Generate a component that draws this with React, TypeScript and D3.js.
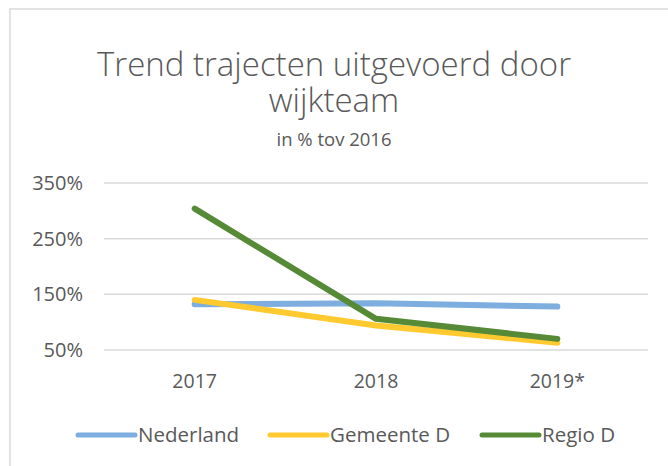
import React, { useEffect, useRef } from "react"
import * as d3 from "d3"

const categories = ["2017", "2018", "2019*"]
const seriesNames = ["Nederland", "Gemeente D", "Regio D"]
const nederland = [132, 134, 128]
const gemeenteD = [140, 94, 63]
const regioD = [304, 106, 70]
const yTicks = [50, 150, 250, 350]
const titleLines = ["Trend trajecten uitgevoerd door", "wijkteam"]

const colors = ["#7DAEDF", "#FFCA30", "#568A36"]
const textColor = "#595959"
const font = "'Open Sans', sans-serif"

const W = 668
const H = 466

const App: React.FC = () => {
  const ref = useRef<SVGSVGElement>(null)

  useEffect(() => {
    if (!ref.current) return
    const svg = d3.select(ref.current)
    svg.selectAll("*").remove()

    // chart frame (runs off the right/bottom edge like the screenshot)
    svg
      .append("rect")
      .attr("x", 10)
      .attr("y", 9)
      .attr("width", W + 20)
      .attr("height", H + 20)
      .attr("fill", "#fff")
      .attr("stroke", "#D9D9D9")
      .attr("stroke-width", 1.5)

    // titles
    titleLines.forEach((t, i) => {
      svg
        .append("text")
        .attr("x", 334)
        .attr("y", 76 + i * 36)
        .attr("text-anchor", "middle")
        .attr("font-family", font)
        .attr("font-weight", 300)
        .attr("fill", textColor)
        .attr("font-size", 33)
        .text(t)
    })

    svg
      .append("text")
      .attr("x", 334)
      .attr("y", 146)
      .attr("text-anchor", "middle")
      .attr("font-family", font)
      .attr("font-size", 18.5)
      .attr("fill", textColor)
      .text("in % tov 2016")

    const x = d3.scaleBand<string>().domain(categories).range([104, 648])
    const y = d3.scaleLinear().domain([50, 350]).range([350, 183])

    // gridlines
    svg
      .append("g")
      .selectAll("line")
      .data(yTicks)
      .join("line")
      .attr("x1", 104)
      .attr("x2", 648)
      .attr("y1", (d) => y(d))
      .attr("y2", (d) => y(d))
      .attr("stroke", "#D9D9D9")
      .attr("stroke-width", 1.5)

    // y labels
    svg
      .append("g")
      .selectAll("text")
      .data(yTicks)
      .join("text")
      .attr("x", 83)
      .attr("y", (d) => y(d) + 7)
      .attr("text-anchor", "end")
      .attr("font-family", font)
      .attr("font-size", 20)
      .attr("fill", textColor)
      .text((d) => d + "%")

    // x labels
    svg
      .append("g")
      .selectAll("text")
      .data(categories)
      .join("text")
      .attr("x", (d) => (x(d) as number) + x.bandwidth() / 2)
      .attr("y", 388)
      .attr("text-anchor", "middle")
      .attr("font-family", font)
      .attr("font-size", 19.5)
      .attr("fill", textColor)
      .text((d) => d)

    const series = [nederland, gemeenteD, regioD]
    const line = d3
      .line<number>()
      .x((_, i) => (x(categories[i]) as number) + x.bandwidth() / 2)
      .y((d) => y(d))

    series.forEach((vals, i) => {
      svg
        .append("path")
        .datum(vals)
        .attr("fill", "none")
        .attr("stroke", colors[i])
        .attr("stroke-width", 6)
        .attr("stroke-linecap", "round")
        .attr("stroke-linejoin", "round")
        .attr("d", line)
    })

    // legend
    const legendX = [78, 270, 482]
    const legend = svg.append("g")
    seriesNames.forEach((name, i) => {
      legend
        .append("line")
        .attr("x1", legendX[i])
        .attr("x2", legendX[i] + 57)
        .attr("y1", 435)
        .attr("y2", 435)
        .attr("stroke", colors[i])
        .attr("stroke-width", 5)
        .attr("stroke-linecap", "round")
      legend
        .append("text")
        .attr("x", legendX[i] + 60)
        .attr("y", 442)
        .attr("font-family", font)
        .attr("font-size", 20.5)
        .attr("fill", textColor)
        .text(name)
    })
  }, [])

  return (
    <svg
      ref={ref}
      width={W}
      height={H}
      style={{ position: "absolute", left: 0, top: 0, background: "#fff" }}
    />
  )
}

export default App
